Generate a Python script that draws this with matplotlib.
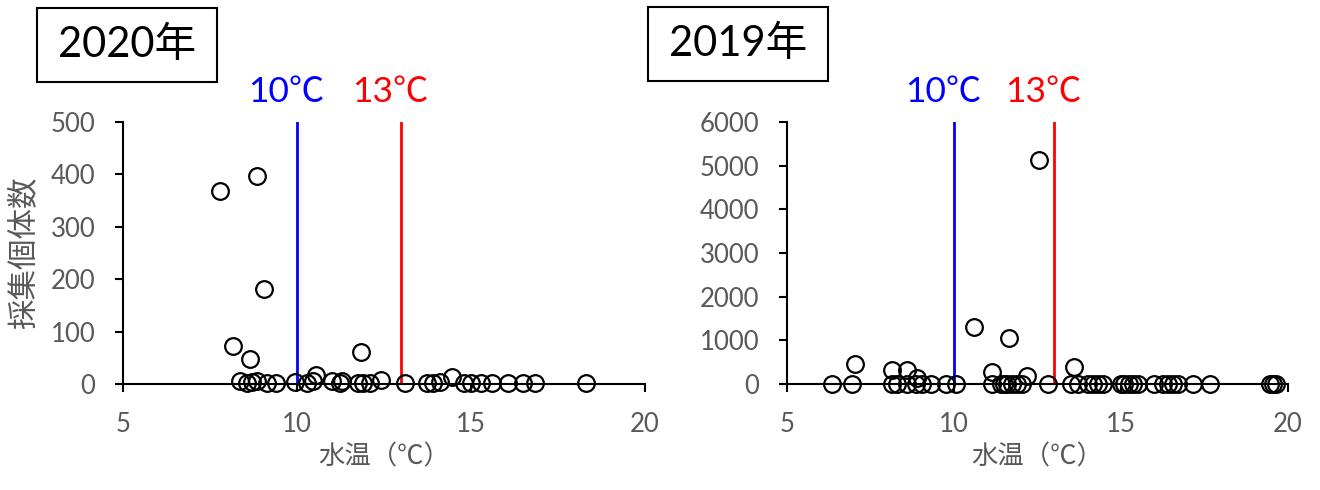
import matplotlib.pyplot as plt
from matplotlib.patches import Rectangle

plt.rcParams['font.family'] = ['Lato', 'Noto Sans CJK JP', 'DejaVu Sans']

# 2020年: 水温 (℃) と採集個体数
temp_2020 = [7.8, 8.85, 9.05, 8.15, 8.65, 11.85,
             8.35, 8.55, 8.7, 8.85, 9.15, 9.4, 9.95, 10.3, 10.45, 10.55,
             11.0, 11.25, 11.3, 11.75, 11.9, 12.1, 12.4, 13.1, 13.75,
             13.9, 14.1, 14.45, 14.8, 15.0, 15.3, 15.6, 16.05, 16.5,
             16.85, 18.3]
count_2020 = [368, 397, 181, 72, 48, 61,
              5, 2, 3, 6, 2, 1, 3, 2, 5, 17,
              6, 2, 5, 1, 2, 1, 8, 1, 2,
              1, 3, 13, 1, 2, 1, 2, 1, 2,
              1, 1]

# 2019年
temp_2019 = [12.55, 10.6, 11.65, 13.6, 7.05, 8.15, 8.6, 8.9, 11.15, 12.2,
             6.35, 6.95, 8.15, 8.3, 8.6, 8.85, 9.05, 9.3, 9.75, 10.05,
             11.15, 11.4, 11.5, 11.6, 11.75, 11.9, 12.05, 12.8, 13.5,
             13.7, 14.0, 14.15, 14.3, 14.45, 15.0, 15.1, 15.25, 15.35,
             15.5, 16.0, 16.25, 16.4, 16.55, 16.7, 17.15, 17.65, 19.45,
             19.55, 19.65]
count_2019 = [5130, 1310, 1060, 400, 450, 320, 320, 140, 275, 185,
              0, 10, 5, 0, 8, 3, 0, 6, 2, 0,
              4, 0, 7, 2, 0, 5, 3, 0, 6,
              0, 4, 2, 0, 5, 0, 3, 1, 0,
              2, 0, 4, 1, 0, 2, 0, 1, 0,
              3, 1]

years = ["2020年", "2019年"]
y_max = [500, 6000]
y_step = [100, 1000]
x_ticks = [5, 10, 15, 20]
thresholds = [10, 13]
threshold_labels = ["10℃", "13℃"]
threshold_colors = ["blue", "red"]

gray = "#595959"
W, H = 1320, 490

fig = plt.figure(figsize=(W / 100, H / 100), dpi=100)
axes = [fig.add_axes([123 / W, 106 / H, 522 / W, 262 / H]),
        fig.add_axes([787 / W, 106 / H, 501 / W, 262 / H])]
data = [(temp_2020, count_2020), (temp_2019, count_2019)]

for ax, (t, c), ymax, step in zip(axes, data, y_max, y_step):
    for xv, lab, col in zip(thresholds, threshold_labels, threshold_colors):
        ax.axvline(xv, color=col, lw=2, zorder=1)
        ax.annotate(lab, xy=(xv, 1.076), xycoords=("data", "axes fraction"),
                    xytext=(-8, 0), textcoords="offset points",
                    ha="center", va="baseline", color=col, fontsize=25.5)
    ax.plot(t, c, linestyle="none", marker="o", markersize=12,
            markerfacecolor="none", markeredgecolor="black",
            markeredgewidth=1.6, clip_on=False, zorder=3)
    ax.set_xlim(5, 20)
    ax.set_ylim(0, ymax)
    ax.set_xticks(x_ticks)
    ax.set_yticks(range(0, ymax + 1, step))
    for side in ("top", "right"):
        ax.spines[side].set_visible(False)
    for side in ("left", "bottom"):
        ax.spines[side].set_linewidth(1.5)
    ax.tick_params(direction="out", length=6, width=1.5, labelsize=18.5,
                   labelcolor=gray, pad=14)
    ax.set_xlabel("水温（℃）", fontsize=19, color=gray, labelpad=5,
                  family=["Noto Sans CJK JP", "DejaVu Sans"])

axes[0].set_ylabel("採集個体数", fontsize=22, color=gray, va="center")
axes[0].yaxis.set_label_coords((23 - 123) / 522, 0.5)

# year boxes
for year, (bx, by) in zip(years, [(37, 8), (648, 7)]):
    fig.patches.append(Rectangle((bx / W, 1 - (by + 74) / H), 180 / W, 74 / H,
                                 transform=fig.transFigure, fill=False,
                                 edgecolor="black", linewidth=1.5))
    fig.text((bx + 90) / W, 1 - (by + 37) / H, year, ha="center",
             va="center", fontsize=30, color="black")

fig.savefig("out.png", dpi=100)
